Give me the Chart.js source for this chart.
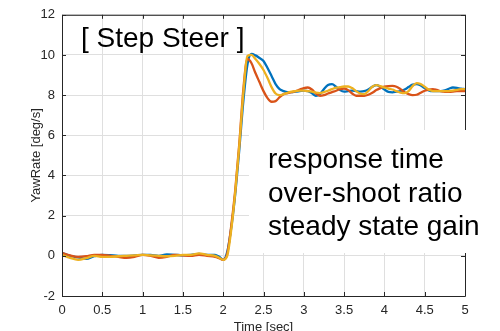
<!DOCTYPE html>
<html lang="en">
<head>
    <meta charset="UTF-8">
    <title>Step Steer - YawRate</title>
    <script src="https://cdn.jsdelivr.net/npm/chart.js"></script>
    <style>
        body {
            margin: 0;
            background: #ffffff;
        }
        #wrap {
            position: relative;
            width: 500px;
            height: 331px;
        }
    </style>
</head>
<body>
    <div id="wrap"><canvas id="yawChart" width="500" height="331"></canvas></div>

    <script>
        // time axis [sec]
        const timeSec = [
            0, 0.1, 0.2, 0.3, 0.4, 0.5, 0.6, 0.7, 0.8, 0.9,
            1.0, 1.1, 1.2, 1.3, 1.4, 1.5, 1.6, 1.7, 1.8, 1.9, 1.95,
            2.0, 2.05, 2.1, 2.15, 2.2, 2.25, 2.3, 2.35, 2.4, 2.45,
            2.5, 2.55, 2.6, 2.65, 2.7, 2.75, 2.8, 2.85, 2.9, 2.95,
            3.0, 3.05, 3.1, 3.15, 3.2, 3.25, 3.3, 3.35, 3.4, 3.45,
            3.5, 3.55, 3.6, 3.65, 3.7, 3.75, 3.8, 3.85, 3.9, 3.95,
            4.0, 4.05, 4.1, 4.15, 4.2, 4.25, 4.3, 4.35, 4.4, 4.45,
            4.5, 4.55, 4.6, 4.65, 4.7, 4.75, 4.8, 4.85, 4.9, 4.95, 5.0
        ];

        // yaw rate [deg/s], three runs
        const yawBlue = [
            0.15, 0.0, -0.08, -0.15, -0.02, 0.05, 0.03, 0.0, 0.0, 0.02,
            0.05, 0.05, 0.0, 0.07, 0.05, 0.03, 0.05, 0.1, 0.05, 0.05, -0.05,
            -0.2, 0.2, 1.4, 3.1, 5.3, 7.7, 9.5, 10.05, 9.98, 9.85,
            9.7, 9.35, 8.95, 8.55, 8.3, 8.2, 8.15, 8.15, 8.18, 8.2,
            8.22, 8.2, 8.1, 7.97, 8.05, 8.3, 8.5, 8.55, 8.42, 8.25,
            8.18, 8.2, 8.22, 8.2, 8.18, 8.2, 8.28, 8.42, 8.5, 8.42,
            8.28, 8.16, 8.14, 8.17, 8.2, 8.28, 8.4, 8.52, 8.55, 8.48,
            8.35, 8.24, 8.2, 8.2, 8.2, 8.24, 8.32, 8.38, 8.36, 8.32, 8.3
        ];
        const yawRed = [
            0.15, 0.02, -0.05, -0.02, 0.05, 0.05, 0.0, -0.05, -0.1, -0.05,
            0.05, 0.0, -0.1, -0.05, 0.05, 0.02, 0.0, 0.05, 0.0, -0.05, -0.12,
            -0.2, 0.1, 1.5, 3.3, 5.6, 8.3, 9.8, 9.6, 9.1, 8.65,
            8.2, 7.85, 7.67, 7.7, 7.9, 8.05, 8.1, 8.15, 8.2, 8.28,
            8.35, 8.38, 8.28, 8.08, 7.97, 8.0, 8.08, 8.15, 8.22, 8.3,
            8.33, 8.25, 8.08, 7.97, 7.97, 7.97, 8.02, 8.12, 8.25, 8.35,
            8.42, 8.45, 8.46, 8.42, 8.3, 8.15, 8.05, 8.0, 8.02, 8.12,
            8.22, 8.28, 8.3, 8.26, 8.2, 8.17, 8.17, 8.18, 8.2, 8.2, 8.2
        ];
        const yawYellow = [
            0.05, -0.1, -0.2, -0.12, 0.0, -0.05, -0.05, -0.02, 0.0, 0.02,
            0.05, 0.02, 0.0, -0.02, 0.0, 0.05, 0.05, 0.12, 0.05, 0.0, -0.1,
            -0.2, 0.0, 1.3, 3.2, 5.5, 8.1, 9.95, 10.0, 9.8, 9.55,
            9.25, 8.85, 8.4, 8.08, 8.0, 8.05, 8.12, 8.18, 8.2, 8.22,
            8.22, 8.2, 8.17, 8.12, 8.1, 8.15, 8.22, 8.3, 8.37, 8.4,
            8.43, 8.43, 8.35, 8.2, 8.08, 8.05, 8.2, 8.42, 8.5, 8.45,
            8.38, 8.33, 8.28, 8.2, 8.13, 8.1, 8.2, 8.45, 8.6, 8.55,
            8.42, 8.28, 8.2, 8.2, 8.2, 8.2, 8.2, 8.22, 8.26, 8.3, 8.3
        ];

        const xTicks = [0, 0.5, 1, 1.5, 2, 2.5, 3, 3.5, 4, 4.5, 5];
        const yTicks = [-2, 0, 2, 4, 6, 8, 10, 12];

        const titleText = '[ Step Steer ]';
        const noteLines = ['response time', 'over-shoot ratio', 'steady state gain'];

        const axisColor = '#262626';
        const gridColor = '#dfdfdf';
        const fontName = "'Liberation Sans', Arial, sans-serif";

        const toPoints = (vals) => vals.map((v, i) => ({ x: timeSec[i], y: v }));

        const makeSet = (label, vals, color, order) => ({
            label: label,
            data: toPoints(vals),
            borderColor: color,
            borderWidth: 2.3,
            pointRadius: 0,
            fill: false,
            cubicInterpolationMode: 'monotone',
            order: order,
        });

        // MATLAB-like box, inward ticks, labels and text annotations
        const decorations = {
            id: 'decorations',
            afterDraw(chart) {
                const ctx = chart.ctx;
                const a = chart.chartArea;
                const xs = chart.scales.x;
                const ys = chart.scales.y;
                ctx.save();

                ctx.strokeStyle = axisColor;
                ctx.lineWidth = 1;
                ctx.beginPath();
                ctx.rect(a.left + 0.5, a.top + 0.5, a.right - a.left, a.bottom - a.top);
                ctx.stroke();

                ctx.beginPath();
                xTicks.forEach(t => {
                    const px = Math.round(xs.getPixelForValue(t)) + 0.5;
                    ctx.moveTo(px, a.bottom);
                    ctx.lineTo(px, a.bottom - 4);
                    ctx.moveTo(px, a.top);
                    ctx.lineTo(px, a.top + 4);
                });
                yTicks.forEach(t => {
                    const py = Math.round(ys.getPixelForValue(t)) + 0.5;
                    ctx.moveTo(a.left, py);
                    ctx.lineTo(a.left + 4, py);
                    ctx.moveTo(a.right, py);
                    ctx.lineTo(a.right - 4, py);
                });
                ctx.stroke();

                // axis titles
                ctx.fillStyle = axisColor;
                ctx.font = '13px ' + fontName;
                ctx.textAlign = 'center';
                ctx.textBaseline = 'middle';
                ctx.save();
                ctx.translate(36, (a.top + a.bottom) / 2);
                ctx.rotate(-Math.PI / 2);
                ctx.fillText('YawRate [deg/s]', 0, 0);
                ctx.restore();
                ctx.textBaseline = 'top';
                ctx.fillText('Time [sec]', (a.left + a.right) / 2, 321);

                // title inside the axes
                ctx.fillStyle = '#000000';
                ctx.font = '28px ' + fontName;
                ctx.textAlign = 'left';
                ctx.textBaseline = 'alphabetic';
                ctx.fillText(titleText, 81, 47);

                // white note box
                ctx.fillStyle = '#ffffff';
                ctx.fillRect(249, 130, 251, 123);
                ctx.fillStyle = '#000000';
                noteLines.forEach((line, i) => {
                    ctx.fillText(line, 268, 168 + i * 33.5);
                });

                ctx.restore();
            }
        };

        new Chart(document.getElementById('yawChart'), {
            type: 'line',
            data: {
                datasets: [
                    makeSet('run 1', yawBlue, '#0072BD', 2),
                    makeSet('run 2', yawRed, '#D95319', 1),
                    makeSet('run 3', yawYellow, '#EDB120', 0),
                ],
            },
            options: {
                responsive: false,
                animation: false,
                layout: { padding: { left: 0, top: 10, right: 35, bottom: 0 } },
                plugins: {
                    legend: { display: false },
                    tooltip: { enabled: false },
                },
                scales: {
                    x: {
                        type: 'linear',
                        min: 0,
                        max: 5,
                        afterFit: (s) => { s.height = 35; },
                        afterBuildTicks: (s) => { s.ticks = xTicks.map(v => ({ value: v })); },
                        grid: { color: gridColor, drawTicks: false },
                        border: { display: false },
                        ticks: {
                            color: axisColor,
                            padding: 7,
                            maxRotation: 0,
                            callback: (v) => String(v),
                            font: { family: fontName, size: 13 },
                        },
                    },
                    y: {
                        min: -2,
                        max: 12,
                        afterFit: (s) => { s.width = 62; },
                        afterBuildTicks: (s) => { s.ticks = yTicks.map(v => ({ value: v })); },
                        grid: { color: gridColor, drawTicks: false },
                        border: { display: false },
                        ticks: {
                            color: axisColor,
                            padding: 7,
                            callback: (v) => String(v),
                            font: { family: fontName, size: 13 },
                        },
                    },
                },
            },
            plugins: [decorations],
        });
    </script>
</body>
</html>
